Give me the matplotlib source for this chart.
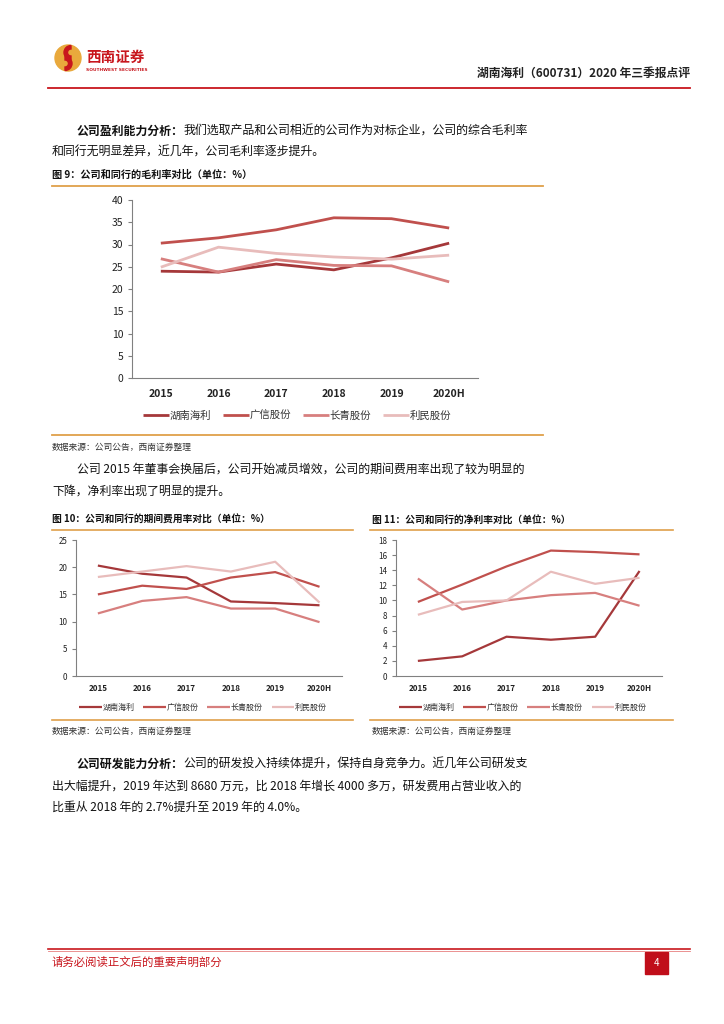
import matplotlib
matplotlib.use("Agg")
import matplotlib.pyplot as plt
from matplotlib.patches import Circle, Rectangle, Wedge
import numpy as np

plt.rcParams['font.family'] = ['Noto Sans CJK SC', 'DejaVu Sans']

# ---------------- data ----------------
years = ['2015', '2016', '2017', '2018', '2019', '2020H']
companies = ['湖南海利', '广信股份', '长青股份', '利民股份']

gm_hunan = [24.0, 23.8, 25.6, 24.3, 27.0, 30.3]
gm_guangxin = [30.3, 31.5, 33.3, 36.0, 35.8, 33.7]
gm_changqing = [26.8, 23.8, 26.6, 25.3, 25.2, 21.6]
gm_limin = [24.9, 29.4, 28.0, 27.2, 26.7, 27.6]

exp_hunan = [20.3, 18.8, 18.1, 13.7, 13.4, 13.0]
exp_guangxin = [15.0, 16.6, 16.0, 18.1, 19.1, 16.4]
exp_changqing = [11.5, 13.8, 14.5, 12.4, 12.4, 9.9]
exp_limin = [18.2, 19.2, 20.2, 19.2, 21.0, 13.5]

np_hunan = [2.0, 2.6, 5.2, 4.8, 5.2, 13.9]
np_guangxin = [9.8, 12.1, 14.5, 16.6, 16.4, 16.1]
np_changqing = [12.9, 8.8, 10.0, 10.7, 11.0, 9.3]
np_limin = [8.1, 9.8, 10.0, 13.8, 12.2, 13.0]

colors = ['#A5383A', '#C0504D', '#D77F7E', '#E8BCBB']

W, H = 724, 1024
fig = plt.figure(figsize=(W / 100, H / 100), dpi=100)

bg = fig.add_axes([0, 0, 1, 1])
bg.set_xlim(0, W)
bg.set_ylim(H, 0)
bg.axis('off')
bg.set_zorder(-1)

RED = '#C8161D'
GOLD = '#DFA04A'
TXT = '#111111'

# ---------------- header ----------------
bg.add_patch(Circle((68, 58), 13, color='#E9A93C'))
bg.add_patch(Wedge((71, 52.5), 7, 90, 270, width=3.5, color='#C8161D'))
bg.add_patch(Wedge((65, 63.5), 7, 270, 450, width=3.5, color='#C8161D'))
bg.text(86, 57, '西南证券', fontsize=10.5, fontweight='bold', color=RED, va='center', ha='left')
bg.text(86, 70, 'SOUTHWEST SECURITIES', fontsize=3.2, fontweight='bold', color=RED, va='center', ha='left', family='DejaVu Sans')
bg.text(690, 73, '湖南海利（600731）2020 年三季报点评', fontsize=8.5, fontweight='bold', color='#222222', ha='right', va='center')
bg.plot([48, 690], [88, 88], color=RED, lw=1.3)

FS = 8.6


def bold_then_normal(x, y, bold, normal):
    t = bg.text(x, y, bold, fontsize=FS, fontweight='bold', va='center', color=TXT)
    bg.annotate(normal, xy=(1, 0.5), xycoords=t, xytext=(0, 0), textcoords='offset points',
                fontsize=FS, va='center', ha='left', color=TXT)


# ---------------- paragraph 1 ----------------
bold_then_normal(77, 131, '公司盈利能力分析：', '我们选取产品和公司相近的公司作为对标企业，公司的综合毛利率')
bg.text(52, 152, '和同行无明显差异，近几年，公司毛利率逐步提升。', fontsize=FS, va='center', color=TXT)

# ---------------- figure 9 ----------------
bg.text(52, 175, '图 9：公司和同行的毛利率对比（单位：%）', fontsize=7.3, fontweight='bold', va='center', color=TXT)
bg.plot([52, 543], [186, 186], color=GOLD, lw=1.3)
bg.plot([52, 543], [435, 435], color=GOLD, lw=1.3)
bg.text(52, 447, '数据来源：公司公告，西南证券整理', fontsize=6.3, style='italic', va='center', color='#333333')


def make_axes(left, right, top, bottom):
    return fig.add_axes([left / W, 1 - bottom / H, (right - left) / W, (bottom - top) / H])


def style_axes(ax, ymax, step, fs):
    ax.set_xlim(-0.5, 5.5)
    ax.set_ylim(0, ymax)
    ax.set_yticks(np.arange(0, ymax + 0.1, step))
    ax.set_xticks(range(len(years)))
    ax.set_xticklabels(years)
    for s in ['top', 'right']:
        ax.spines[s].set_visible(False)
    for s in ['left', 'bottom']:
        ax.spines[s].set_color('#808080')
        ax.spines[s].set_linewidth(0.8)
    ax.tick_params(axis='y', length=3, width=0.8, color='#808080', labelsize=fs, labelcolor='#222222', pad=3)
    ax.tick_params(axis='x', length=0, labelsize=fs, labelcolor='#222222', pad=8)
    for lab in ax.get_xticklabels():
        lab.set_fontweight('bold')


ax1 = make_axes(132, 478, 200, 378)
series1 = [gm_hunan, gm_guangxin, gm_changqing, gm_limin]
for name, vals, c in zip(companies, series1, colors):
    ax1.plot(range(len(years)), vals, color=c, lw=2.0, label=name, solid_capstyle='butt')
style_axes(ax1, 40, 5, 7.5)
ax1.legend(loc='center', bbox_to_anchor=(297 / W, 1 - 416 / H), bbox_transform=fig.transFigure,
           ncol=4, frameon=False, fontsize=7.5, handlelength=2.5, handletextpad=0.1, columnspacing=1.1,
           labelcolor='#333333')

# ---------------- paragraph 2 ----------------
bg.text(77, 469, '公司 2015 年董事会换届后，公司开始减员增效，公司的期间费用率出现了较为明显的', fontsize=FS, va='center', color=TXT)
bg.text(52, 491, '下降，净利率出现了明显的提升。', fontsize=FS, va='center', color=TXT)

# ---------------- figure 10 / 11 ----------------
bg.text(52, 520, '图 10：公司和同行的期间费用率对比（单位：%）', fontsize=7.0, fontweight='bold', va='center', color=TXT)
bg.text(372, 520, '图 11：公司和同行的净利率对比（单位：%）', fontsize=7.0, fontweight='bold', va='center', color=TXT)
for x0, x1 in [(52, 353), (370, 673)]:
    bg.plot([x0, x1], [530, 530], color=GOLD, lw=1.2)
    bg.plot([x0, x1], [720, 720], color=GOLD, lw=1.2)
bg.text(52, 731, '数据来源：公司公告，西南证券整理', fontsize=6.3, style='italic', va='center', color='#333333')
bg.text(372, 731, '数据来源：公司公告，西南证券整理', fontsize=6.3, style='italic', va='center', color='#333333')

ax2 = make_axes(75.7, 341.7, 540, 676)
series2 = [exp_hunan, exp_guangxin, exp_changqing, exp_limin]
for name, vals, c in zip(companies, series2, colors):
    ax2.plot(range(len(years)), vals, color=c, lw=1.6, label=name, solid_capstyle='butt')
style_axes(ax2, 25, 5, 5.8)
ax2.tick_params(axis='x', pad=6)
ax2.legend(loc='center', bbox_to_anchor=(203 / W, 1 - 707 / H), bbox_transform=fig.transFigure,
           ncol=4, frameon=False, fontsize=5.8, handlelength=2.8, handletextpad=0.1, columnspacing=1.1,
           labelcolor='#333333')

ax3 = make_axes(395.7, 661.7, 540, 676)
series3 = [np_hunan, np_guangxin, np_changqing, np_limin]
for name, vals, c in zip(companies, series3, colors):
    ax3.plot(range(len(years)), vals, color=c, lw=1.6, label=name, solid_capstyle='butt')
style_axes(ax3, 18, 2, 5.8)
ax3.tick_params(axis='x', pad=6)
ax3.legend(loc='center', bbox_to_anchor=(523 / W, 1 - 707 / H), bbox_transform=fig.transFigure,
           ncol=4, frameon=False, fontsize=5.8, handlelength=2.8, handletextpad=0.1, columnspacing=1.1,
           labelcolor='#333333')

# ---------------- paragraph 3 ----------------
bold_then_normal(77, 764, '公司研发能力分析：', '公司的研发投入持续体提升，保持自身竞争力。近几年公司研发支')
bg.text(52, 786, '出大幅提升，2019 年达到 8680 万元，比 2018 年增长 4000 多万，研发费用占营业收入的', fontsize=FS, va='center', color=TXT)
bg.text(52, 807, '比重从 2018 年的 2.7%提升至 2019 年的 4.0%。', fontsize=FS, va='center', color=TXT)

# ---------------- footer ----------------
bg.plot([48, 690], [949, 949], color=RED, lw=1.2)
bg.plot([48, 690], [951, 951], color='#E88080', lw=0.6)
bg.text(52, 962, '请务必阅读正文后的重要声明部分', fontsize=8.2, color=RED, va='center')
bg.add_patch(Rectangle((645, 952), 23, 22, color='#C00E1A'))
bg.text(656.5, 963, '4', fontsize=7, color='white', ha='center', va='center')

fig.savefig('out.png', dpi=100)
